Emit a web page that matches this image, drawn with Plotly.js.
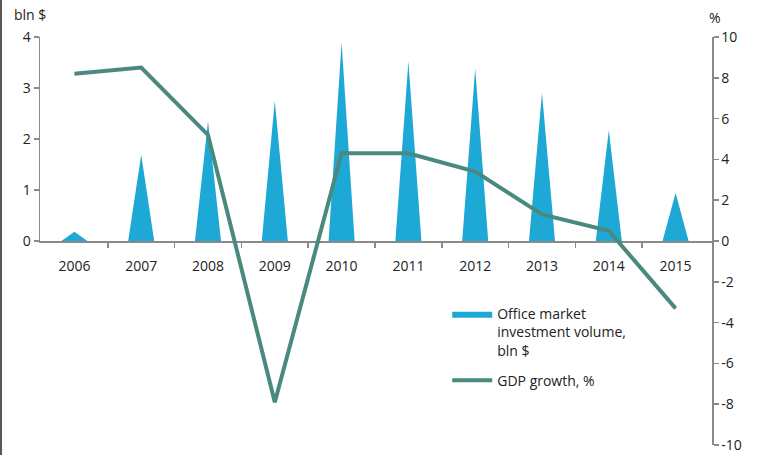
<!DOCTYPE html>
<html>
<head>
<meta charset="utf-8">
<script src="https://cdn.plot.ly/plotly-3.0.1.min.js"></script>
<style>
  html, body { margin: 0; padding: 0; background: #fff; }
  #chart { width: 757px; height: 455px; }
</style>
</head>
<body>
<div id="chart"></div>
<script>
// ---- data ----
const years = ["2006", "2007", "2008", "2009", "2010", "2011", "2012", "2013", "2014", "2015"];
const investmentVolume = [0.18, 1.69, 2.35, 2.75, 3.89, 3.52, 3.38, 2.9, 2.17, 0.94]; // bln $
const gdpGrowth = [8.2, 8.5, 5.2, -7.9, 4.3, 4.3, 3.4, 1.3, 0.5, -3.3]; // %
const pctTickVals = [-10, -8, -6, -4, -2, 0, 2, 4, 6, 8, 10];
const pctTickText = ["-10", "-8", "-6", "-4", "-2", "0", "2", "4", "6", "8", "10"];

// ---- build triangle ("spike") outlines from the data ----
const halfWidth = 0.195;
const triX = [], triY = [];
investmentVolume.forEach((v, i) => {
  triX.push(i - halfWidth, i, i + halfWidth, i - halfWidth, null);
  triY.push(0, v, 0, 0, null);
});
const xIdx = years.map((_, i) => i);

const axisGray = "#8a8a8a";
const textCol = "#222222";
const fontFam = "'Open Sans', 'Noto Sans', sans-serif";

const traces = [
  {
    x: triX, y: triY,
    type: "scatter", mode: "lines",
    fill: "toself",
    fillcolor: "#1da8d5",
    line: { width: 0, color: "#1da8d5" },
    name: "Office market<br>investment volume,<br>bln $",
    legendgroup: "a",
    xaxis: "x", yaxis: "y",
    hoverinfo: "skip"
  },
  {
    x: xIdx, y: gdpGrowth,
    type: "scatter", mode: "lines",
    line: { color: "#4a8a7e", width: 4 },
    name: "GDP growth, %",
    legendgroup: "b",
    xaxis: "x", yaxis: "y2"
  }
];

const layout = {
  width: 757, height: 455,
  margin: { l: 40, r: 45, t: 37, b: 10 },
  paper_bgcolor: "#ffffff",
  plot_bgcolor: "rgba(0,0,0,0)",
  font: { family: fontFam, size: 14, color: textCol },
  showlegend: true,
  legend: {
    x: 0.606, y: 0.36, xanchor: "left", yanchor: "top",
    bgcolor: "rgba(0,0,0,0)",
    font: { family: fontFam, size: 14, color: textCol },
    itemwidth: 40,
    valign: "top",
    tracegroupgap: 9
  },
  xaxis: {
    domain: [0, 1],
    anchor: "y",
    range: [-0.515, 9.545],
    tickmode: "array",
    tickvals: xIdx,
    ticktext: years,
    ticks: "",
    ticklabelstandoff: 12,
    showline: true, linecolor: axisGray, linewidth: 1.5,
    showgrid: false, zeroline: false,
    minor: {
      tickmode: "array",
      tickvals: [0.5, 1.5, 2.5, 3.5, 4.5, 5.5, 6.5, 7.5, 8.5],
      ticks: "outside", ticklen: 5, tickcolor: axisGray, tickwidth: 1.5,
      showgrid: false
    },
    tickfont: { size: 14, color: textCol },
    fixedrange: true
  },
  yaxis: {
    domain: [0.5, 1],
    anchor: "x",
    range: [0, 4],
    tickmode: "linear", tick0: 0, dtick: 1,
    ticks: "outside", ticklen: 5, tickcolor: axisGray, tickwidth: 1.5,
    showline: true, linecolor: axisGray, linewidth: 1.5,
    showgrid: false, zeroline: false,
    tickfont: { size: 14, color: textCol },
    fixedrange: true
  },
  yaxis2: {
    domain: [0, 1],
    anchor: "x",
    side: "right",
    range: [-10, 10],
    tickmode: "array", tickvals: pctTickVals, ticktext: pctTickText,
    ticks: "outside", ticklen: 5, tickcolor: axisGray, tickwidth: 1.5,
    showline: true, linecolor: axisGray, linewidth: 1.5,
    showgrid: false, zeroline: false,
    tickfont: { size: 14, color: textCol },
    fixedrange: true
  },
  annotations: [
    { text: "bln $", xref: "paper", yref: "paper", x: -0.042, y: 1.054,
      xanchor: "left", yanchor: "middle", showarrow: false,
      font: { size: 14, color: textCol } },
    { text: "%", xref: "paper", yref: "paper", x: 0.993, y: 1.047,
      xanchor: "left", yanchor: "middle", showarrow: false,
      font: { size: 14, color: textCol } }
  ],
  shapes: [
    { type: "line", xref: "paper", yref: "paper",
      x0: -0.0580, x1: -0.0580, y0: -0.03, y1: 1.1,
      line: { color: "#555555", width: 2 } }
  ]
};

Plotly.newPlot("chart", traces, layout, { displayModeBar: false, staticPlot: true });
</script>
</body>
</html>
